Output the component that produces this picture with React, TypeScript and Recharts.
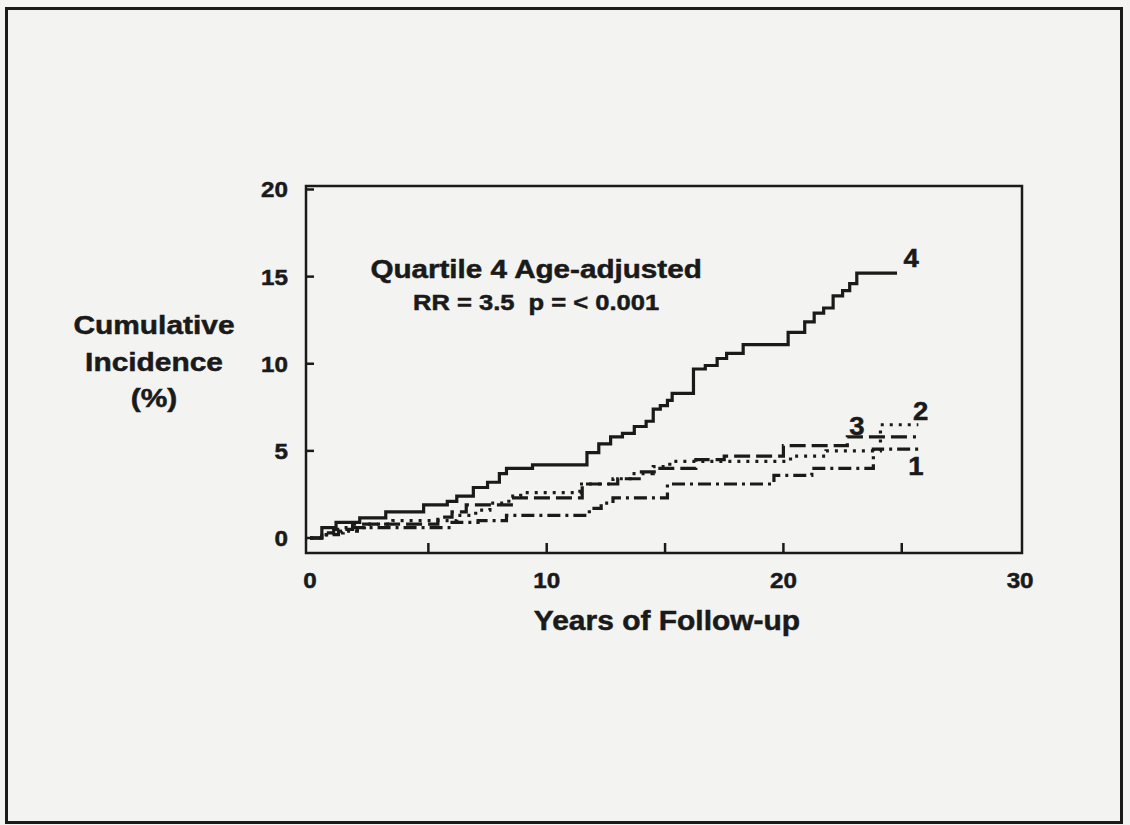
import { LineChart, Line, XAxis, YAxis, ReferenceDot, ReferenceArea } from "recharts";

// Kaplan-Meier style cumulative incidence, one step curve per quartile
const q1Years = [0, 0.6, 1.2, 2.0, 6.0, 7.1, 8.3, 11.8, 12.3, 12.8, 15.1, 19.6, 21.2, 23.8, 25.9];
const q1Values = [0, 0.2, 0.4, 0.6, 0.9, 1.0, 1.3, 1.7, 2.0, 2.3, 3.1, 3.6, 4.0, 5.1, 5.1];

const q2Years = [0, 0.7, 1.4, 2.3, 3.5, 6.2, 7.0, 7.6, 8.4, 8.9, 11.4, 12.8, 13.6, 14.5, 15.2, 20.3, 21.8, 24.1, 25.7];
const q2Values = [0, 0.3, 0.6, 0.8, 1.0, 1.3, 1.6, 2.0, 2.4, 2.6, 3.1, 3.4, 3.7, 4.1, 4.4, 4.7, 5.0, 6.5, 6.5];

const q3Years = [0, 0.5, 1.0, 1.8, 5.4, 6.0, 6.6, 8.6, 11.5, 13.0, 14.0, 14.7, 16.3, 17.5, 20.0, 22.7, 25.6];
const q3Values = [0, 0.3, 0.5, 0.8, 1.2, 1.5, 1.9, 2.3, 3.1, 3.4, 3.8, 4.0, 4.5, 4.7, 5.3, 5.8, 5.8];

const q4Years = [
  0, 0.5, 1.1, 2.1, 3.2, 4.8, 5.8, 6.2, 6.9, 7.5, 8.0, 8.3, 9.4, 11.7, 12.2, 12.7, 13.2, 13.7, 14.2, 14.5,
  14.8, 15.1, 15.3, 16.2, 16.7, 17.2, 17.6, 18.3, 20.2, 20.9, 21.3, 21.7, 22.1, 22.5, 22.8, 23.1, 24.8,
];
const q4Values = [
  0, 0.6, 0.9, 1.15, 1.5, 1.9, 2.1, 2.4, 2.9, 3.2, 3.7, 4.0, 4.2, 4.9, 5.4, 5.8, 6.0, 6.4, 6.7, 7.4,
  7.6, 7.9, 8.3, 9.7, 9.9, 10.3, 10.6, 11.1, 11.8, 12.4, 12.9, 13.2, 13.9, 14.2, 14.6, 15.2, 15.2,
];

const xTicks = [0, 5, 10, 15, 20, 25, 30];
const xLabelled = [0, 10, 20, 30];
const yTicks = [0, 5, 10, 15, 20];

const yTitleLines = ["Cumulative", "Incidence", "(%)"];
const xTitle = "Years of Follow-up";
const noteTitle = "Quartile 4 Age-adjusted";
const noteStats = "RR = 3.5  p = < 0.001";

const xDomain = [-0.17, 30.08];
const yDomain = [-0.86, 20.2];

const toPoints = (years: number[], values: number[]) => years.map((x, i) => ({ x, y: values[i] }));

const font = "'Liberation Sans', Arial, Helvetica, sans-serif";
const ink = "#1a1a1a";

// bold text, stretched a little sideways like the old slide lettering
function SText({ x, y, size, sx = 1.12, anchor = "middle", dy, children }: any) {
  return (
    <text
      transform={`translate(${x} ${y}) scale(${sx} 1)`}
      textAnchor={anchor}
      dy={dy}
      fill={ink}
      stroke={ink}
      strokeWidth={0.5}
      fontFamily={font}
      fontWeight="bold"
      fontSize={size}
      style={{ whiteSpace: "pre" }}
    >
      {children}
    </text>
  );
}

const Y_MARGIN = 18;
const X_MARGIN = 19;

function YTick({ x, y, payload }: any) {
  const axisX = x + Y_MARGIN;
  return (
    <g>
      <line x1={axisX} x2={axisX + 8} y1={y} y2={y} stroke={ink} strokeWidth={2.5} />
      <SText x={x} y={y} size={22} sx={1.1} anchor="end" dy="0.36em">
        {payload.value}
      </SText>
    </g>
  );
}

function XTick({ x, y, payload }: any) {
  const axisY = y - X_MARGIN;
  const inner = payload.value > 0 && payload.value < 30;
  return (
    <g>
      {inner && <line x1={x} x2={x} y1={axisY} y2={axisY - 10} stroke={ink} strokeWidth={2.5} />}
      {xLabelled.includes(payload.value) && (
        <SText x={x} y={y} size={22} sx={1.1} dy="0.71em">
          {payload.value}
        </SText>
      )}
    </g>
  );
}

function YTitle({ viewBox }: any) {
  const cx = viewBox.x + 154;
  return (
    <g>
      {yTitleLines.map((line, i) => (
        <SText key={line} x={cx} y={viewBox.y + 148 + i * 36.5} size={26} sx={1.15}>
          {line}
        </SText>
      ))}
    </g>
  );
}

function XTitle({ viewBox }: any) {
  return (
    <SText x={viewBox.x + 361} y={viewBox.y + 77} size={27} sx={1.11}>
      {xTitle}
    </SText>
  );
}

const textShape = (value: string, size: number, sx = 1.1) => (p: any) => (
  <SText x={p.cx} y={p.cy} size={size} sx={sx}>
    {value}
  </SText>
);

export default function App() {
  return (
    <div style={{ position: "absolute", left: 0, top: 0, width: 1130, height: 825, background: "#f3f3f1" }}>
      <div
        style={{
          position: "absolute",
          left: 5,
          top: 7,
          width: 1118,
          height: 817,
          border: `3px solid ${ink}`,
          boxSizing: "border-box",
        }}
      />
      <div style={{ position: "absolute", left: 0, top: 0 }}>
        <LineChart width={1130} height={825} margin={{ top: 186, right: 108, left: 0, bottom: 0 }}>
          <XAxis
            dataKey="x"
            type="number"
            domain={xDomain}
            ticks={xTicks}
            allowDataOverflow
            height={272}
            axisLine={false}
            tickLine={false}
            tickSize={0}
            tickMargin={X_MARGIN}
            tick={<XTick />}
            label={{ content: (props: any) => <XTitle {...props} /> }}
          />
          <YAxis
            type="number"
            domain={yDomain}
            ticks={yTicks}
            allowDataOverflow
            width={306}
            axisLine={false}
            tickLine={false}
            tickSize={0}
            tickMargin={Y_MARGIN}
            tick={<YTick />}
            label={{ content: (props: any) => <YTitle {...props} /> }}
          />

          <ReferenceArea
            x1={xDomain[0]}
            x2={xDomain[1]}
            y1={yDomain[0]}
            y2={yDomain[1]}
            fill="none"
            stroke={ink}
            strokeWidth={2.5}
            ifOverflow="visible"
          />

          <Line data={toPoints(q1Years, q1Values)} dataKey="y" type="stepAfter" stroke={ink} strokeWidth={3.2} strokeDasharray="13 5 3 5" dot={false} isAnimationActive={false} />
          <Line data={toPoints(q2Years, q2Values)} dataKey="y" type="stepAfter" stroke={ink} strokeWidth={3.2} strokeDasharray="3 6" dot={false} isAnimationActive={false} />
          <Line data={toPoints(q3Years, q3Values)} dataKey="y" type="stepAfter" stroke={ink} strokeWidth={3.2} strokeDasharray="16 6" dot={false} isAnimationActive={false} />
          <Line data={toPoints(q4Years, q4Values)} dataKey="y" type="stepAfter" stroke={ink} strokeWidth={3.2} dot={false} isAnimationActive={false} />

          <ReferenceDot x={9.55} y={14.9} r={0} ifOverflow="visible" shape={textShape(noteTitle, 26, 1.14)} />
          <ReferenceDot x={9.55} y={13.08} r={0} ifOverflow="visible" shape={textShape(noteStats, 22, 1.16)} />
          <ReferenceDot x={25.4} y={15.55} r={0} ifOverflow="visible" shape={textShape("4", 25)} />
          <ReferenceDot x={23.1} y={5.9} r={0} ifOverflow="visible" shape={textShape("3", 25)} />
          <ReferenceDot x={25.8} y={6.8} r={0} ifOverflow="visible" shape={textShape("2", 25)} />
          <ReferenceDot x={25.6} y={3.6} r={0} ifOverflow="visible" shape={textShape("1", 25)} />
        </LineChart>
      </div>
    </div>
  );
}
